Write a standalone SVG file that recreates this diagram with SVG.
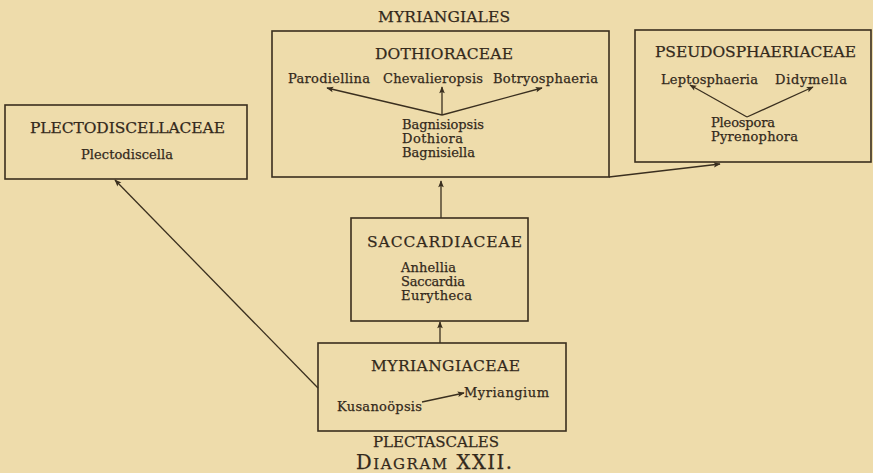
<svg xmlns="http://www.w3.org/2000/svg" width="873" height="473" viewBox="0 0 873 473">
<style>
text{font-family:"DejaVu Serif","Liberation Serif",serif;fill:#33291b;stroke:#33291b;stroke-width:0.25}
.h{font-size:15.5px}
.s{font-size:13px}
.box{fill:none;stroke:#3a2f1f;stroke-width:1.6}
.c line{stroke:#3a2f1f;stroke-width:1.3;marker-end:url(#ah)}
</style>
<defs>
<marker id="ah" viewBox="0 0 10 10" refX="9" refY="5" markerWidth="9" markerHeight="7" markerUnits="userSpaceOnUse" orient="auto">
<path d="M0,1 L10,5 L0,9 L2,5 Z" fill="#3a2f1f"/>
</marker>
</defs>
<rect width="873" height="473" fill="#eedcab"/>
<text class="h" x="378" y="22" textLength="132">MYRIANGIALES</text>
<g id="dothioraceae">
<rect class="box" x="272" y="31" width="337" height="146"/>
<text class="h" x="375" y="59" textLength="138">DOTHIORACEAE</text>
<text class="s" x="288" y="83" textLength="82">Parodiellina</text>
<text class="s" x="383" y="83" textLength="100">Chevalieropsis</text>
<text class="s" x="493" y="83" textLength="105">Botryosphaeria</text>
<text class="s" x="402" y="129" textLength="82">Bagnisiopsis</text>
<text class="s" x="402" y="143" textLength="61">Dothiora</text>
<text class="s" x="402" y="157" textLength="73">Bagnisiella</text>
</g>
<g id="pseudosphaeriaceae">
<rect class="box" x="635" y="30" width="236" height="132"/>
<text class="h" x="655" y="57" textLength="201">PSEUDOSPHAERIACEAE</text>
<text class="s" x="661" y="84" textLength="97">Leptosphaeria</text>
<text class="s" x="775" y="84" textLength="72">Didymella</text>
<text class="s" x="711" y="127" textLength="64">Pleospora</text>
<text class="s" x="711" y="141" textLength="87">Pyrenophora</text>
</g>
<g id="plectodiscellaceae">
<rect class="box" x="5" y="105" width="242" height="74"/>
<text class="h" x="30" y="133" textLength="195">PLECTODISCELLACEAE</text>
<text class="s" x="81" y="159" textLength="92">Plectodiscella</text>
</g>
<g id="saccardiaceae">
<rect class="box" x="351" y="218" width="177" height="103"/>
<text class="h" x="367" y="247" textLength="155">SACCARDIACEAE</text>
<text class="s" x="401" y="272" textLength="55">Anhellia</text>
<text class="s" x="401" y="286" textLength="64">Saccardia</text>
<text class="s" x="401" y="300" textLength="71">Eurytheca</text>
</g>
<g id="myriangiaceae">
<rect class="box" x="318" y="343" width="248" height="88"/>
<text class="h" x="371" y="371" textLength="149">MYRIANGIACEAE</text>
<text class="s" x="464" y="397" textLength="85">Myriangium</text>
<text class="s" x="337" y="411" textLength="85">Kusanoöpsis</text>
</g>
<text class="h" x="373" y="447" textLength="126" style="font-size:15px">PLECTASCALES</text>
<text x="356" y="469" textLength="156" style="font-size:19.5px">D<tspan style="font-size:15px">IAGRAM</tspan> XXII.</text>
<g id="connectors" class="c">
<line x1="442" y1="115" x2="327" y2="88"/>
<line x1="442" y1="115" x2="442" y2="87"/>
<line x1="442" y1="115" x2="542" y2="88"/>
<line x1="747" y1="117" x2="690" y2="85"/>
<line x1="747" y1="117" x2="813" y2="87"/>
<line x1="609" y1="177" x2="720" y2="164"/>
<line x1="441" y1="218" x2="441" y2="181"/>
<line x1="440" y1="343" x2="440" y2="322"/>
<line x1="318" y1="388" x2="115" y2="180"/>
<line x1="422" y1="402" x2="464" y2="393"/>
</g>
</svg>
